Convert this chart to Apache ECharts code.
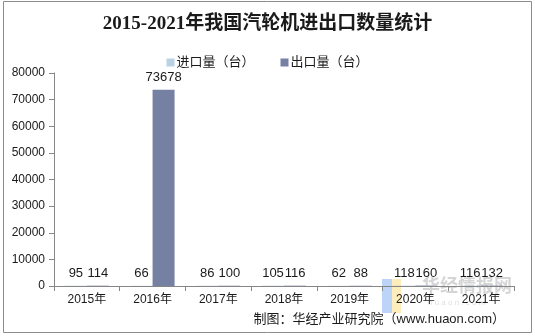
<!DOCTYPE html>
<html>
<head>
<meta charset="utf-8">
<script src="https://cdn.jsdelivr.net/npm/echarts@6/dist/echarts.min.js"></script>
<style>
  html, body { margin: 0; padding: 0; background: #fff; }
  #chart { width: 535px; height: 336px; }
</style>
</head>
<body>
<div id="chart"></div>
<script>
// Steam turbine import/export counts by year (units: 台)
var years = ['2015年', '2016年', '2017年', '2018年', '2019年', '2020年', '2021年'];
var importUnits = [95, 66, 86, 105, 62, 118, 116];
var exportUnits = [114, 73678, 100, 116, 88, 160, 132];
var yTicks = { min: 0, max: 80000, interval: 10000 };

var axisGray = '#868686';
var textColor = '#1a1a1a';
var sansFont = '"Liberation Sans", "Noto Sans CJK SC", sans-serif';
var serifFont = '"Liberation Serif", "Noto Sans CJK SC", serif';

var chart = echarts.init(document.getElementById('chart'), null, { renderer: 'canvas' });

chart.setOption({
  backgroundColor: '#fff',
  animation: false,
  textStyle: { fontFamily: sansFont },
  title: {
    text: '2015-2021年我国汽轮机进出口数量统计',
    left: 'center',
    top: 10,
    textStyle: {
      fontFamily: serifFont,
      fontSize: 19,
      fontWeight: 'bold',
      color: '#1a1a1a'
    }
  },
  legend: {
    top: 51,
    left: 'center',
    itemWidth: 8,
    itemHeight: 8,
    itemGap: 26,
    icon: 'rect',
    textStyle: { fontSize: 13, color: textColor, fontFamily: sansFont, padding: [0, 0, 0, -3] },
    data: ['进口量（台）', '出口量（台）']
  },
  grid: { left: 54, right: 21, top: 73, bottom: 50 },
  xAxis: {
    type: 'category',
    data: years,
    axisLine: { lineStyle: { color: axisGray } },
    axisTick: { show: true, length: 5, lineStyle: { color: axisGray } },
    axisLabel: { fontSize: 12, color: textColor, margin: 8, fontFamily: sansFont }
  },
  yAxis: {
    type: 'value',
    min: yTicks.min,
    max: yTicks.max,
    interval: yTicks.interval,
    axisLine: { show: true, lineStyle: { color: axisGray } },
    axisTick: { show: true, length: 5, lineStyle: { color: axisGray } },
    splitLine: { show: false },
    axisLabel: {
      fontSize: 12, color: textColor, margin: 9, fontFamily: sansFont,
      formatter: function (v) { return String(v); }
    }
  },
  series: [
    {
      name: '进口量（台）',
      type: 'bar',
      data: importUnits,
      barWidth: 22,
      barGap: '0%',
      itemStyle: { color: '#b8d2e3' },
      label: { show: true, position: 'top', distance: 6, fontSize: 13, color: textColor, fontFamily: sansFont }
    },
    {
      name: '出口量（台）',
      type: 'bar',
      data: exportUnits,
      barWidth: 22,
      itemStyle: { color: '#7580a3' },
      label: { show: true, position: 'top', distance: 6, fontSize: 13, color: textColor, fontFamily: sansFont }
    }
  ],
  graphic: [
    {
      type: 'rect',
      shape: { x: 3.5, y: 1.5, width: 528, height: 331 },
      style: { fill: 'none', stroke: '#8c8c8c', lineWidth: 1 },
      silent: true
    },
    {
      type: 'rect',
      shape: { x: 382, y: 279, width: 10, height: 34 },
      style: { fill: 'rgba(120,170,240,0.5)' },
      silent: true
    },
    {
      type: 'rect',
      shape: { x: 392, y: 279, width: 9, height: 34 },
      style: { fill: 'rgba(250,220,120,0.5)' },
      silent: true
    },
    {
      type: 'text',
      left: 422,
      top: 278,
      style: { text: '华经情报网', fontSize: 18, fontWeight: 'bold', fill: 'rgba(150,150,150,0.4)', fontFamily: sansFont },
      silent: true
    },
    {
      type: 'text',
      left: 428,
      top: 299,
      style: { text: 'h u a o n . c o m', fontSize: 8, fill: 'rgba(150,150,150,0.3)', fontFamily: sansFont },
      silent: true
    },
    {
      type: 'text',
      right: 30,
      top: 313,
      style: { text: '制图：华经产业研究院（www.huaon.com）', fontSize: 13, fill: textColor, fontFamily: sansFont },
      silent: true
    }
  ]
});
</script>
</body>
</html>
